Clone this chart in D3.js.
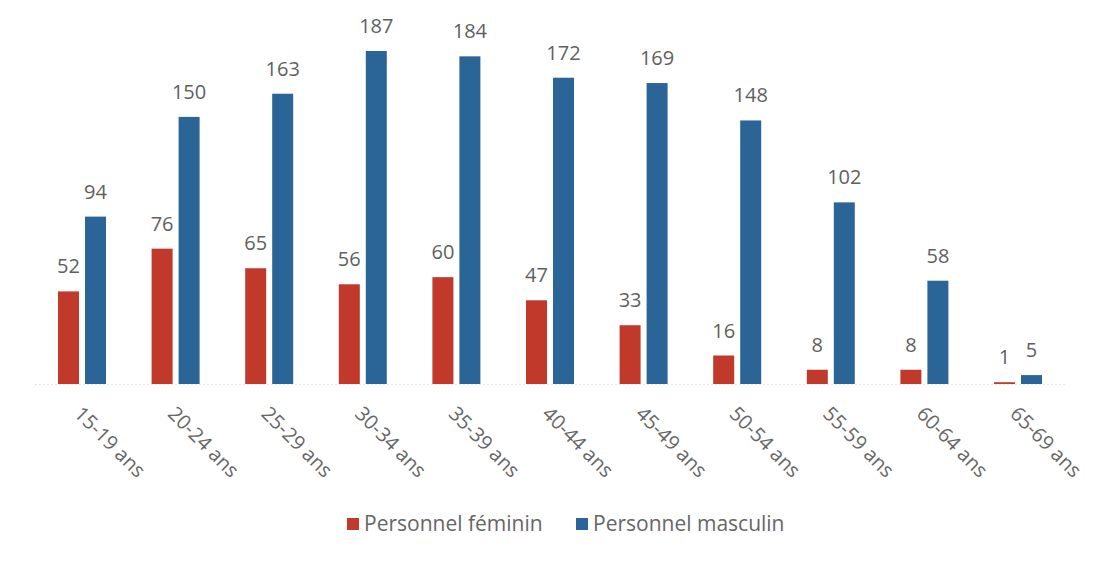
<!DOCTYPE html>
<html><head><meta charset="utf-8">
<script src="https://cdn.jsdelivr.net/npm/d3@7"></script>
<style>body{margin:0;background:#fff}svg{display:block}</style>
</head><body>
<script>
const categories = ["15-19 ans","20-24 ans","25-29 ans","30-34 ans","35-39 ans","40-44 ans","45-49 ans","50-54 ans","55-59 ans","60-64 ans","65-69 ans"];
const feminin = [52,76,65,56,60,47,33,16,8,8,1];
const masculin = [94,150,163,187,184,172,169,148,102,58,5];
const seriesNames = ["Personnel féminin","Personnel masculin"];
const colors = ["#c0392b","#2b6597"];

const W=1113,H=562;
const svg=d3.select("body").append("svg").attr("width",W).attr("height",H);
const font="'Open Sans', 'Noto Sans', sans-serif";
const baseY=384;
const x=d3.scaleBand().domain(categories).range([35.2,1064.8]);
const y=d3.scaleLinear().domain([0,187]).range([baseY,51]);
const barW=21, gap=6;

svg.append("line").attr("x1",35).attr("x2",1065).attr("y1",baseY+0.5).attr("y2",baseY+0.5)
  .attr("stroke","#e6e6e6").attr("stroke-width",1).attr("stroke-dasharray","2,2");

const series=[feminin,masculin];
series.forEach((vals,si)=>{
  const off = si===0 ? -(gap/2+barW) : gap/2;
  const g=svg.append("g");
  g.selectAll("rect").data(categories).join("rect")
    .attr("x",c=>x(c)+x.bandwidth()/2+off)
    .attr("width",barW)
    .attr("y",(c,i)=>y(vals[i]))
    .attr("height",(c,i)=>baseY-y(vals[i]))
    .attr("fill",colors[si]);
  g.selectAll("text").data(categories).join("text")
    .attr("x",c=>x(c)+x.bandwidth()/2+off+barW/2)
    .attr("y",(c,i)=>y(vals[i])-18)
    .attr("text-anchor","middle")
    .attr("font-family",font).attr("font-size",20).attr("fill","#5f5f5f")
    .text((c,i)=>vals[i]);
});

svg.append("g").selectAll("text").data(categories).join("text")
  .attr("transform",c=>`translate(${x(c)+x.bandwidth()/2-4},${410}) rotate(45)`)
  .attr("font-family",font).attr("font-size",20).attr("fill","#666")
  .attr("dy","0.35em")
  .text(c=>c);

const leg=[{x:347,t:seriesNames[0],c:colors[0]},{x:576,t:seriesNames[1],c:colors[1]}];
leg.forEach(l=>{
  svg.append("rect").attr("x",l.x).attr("y",518).attr("width",12).attr("height",12).attr("fill",l.c);
  svg.append("text").attr("x",l.x+17).attr("y",531).attr("font-family",font).attr("font-size",21)
    .attr("fill","#666").text(l.t);
});
</script>
</body></html>
